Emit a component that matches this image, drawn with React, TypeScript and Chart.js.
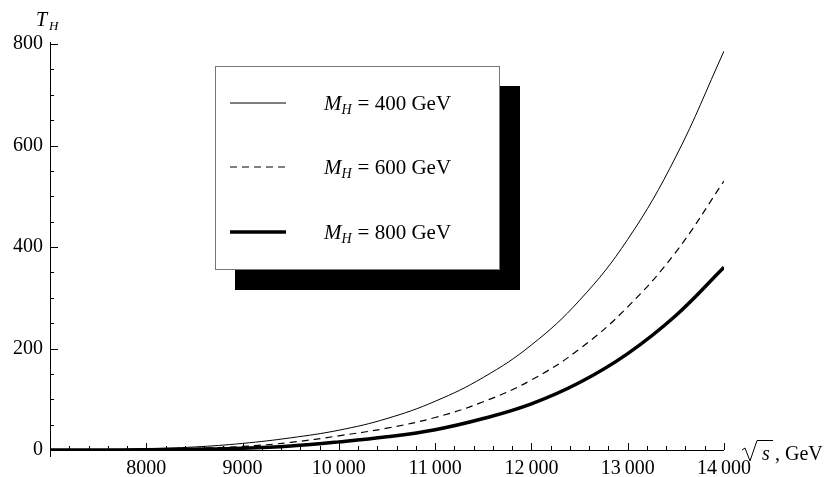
import React, { useEffect, useRef } from "react";
import { Chart, registerables } from "chart.js";

Chart.register(...registerables);

const sqrtS = [7000, 7500, 8000, 8500, 9000, 9500, 10000, 10500, 11000, 11500, 12000, 12500, 13000, 13500, 14000];
const t400 = [0, 0.8, 2.5, 6, 13, 24, 39, 62, 96, 143, 207, 295, 415, 578, 786];
const t600 = [0, 0.3, 1, 3, 7, 15, 28, 43, 64, 95, 138, 199, 282, 390, 530];
const t800 = [0, 0.1, 0.5, 1.5, 3.5, 8, 16, 26, 40, 62, 91, 133, 190, 265, 360];

const seriesLabels = ["400", "600", "800"];
const xMajorTicks = [8000, 9000, 10000, 11000, 12000, 13000, 14000];
const xTickLabels = ["8000", "9000", "10\u2009000", "11\u2009000", "12\u2009000", "13\u2009000", "14\u2009000"];
const yMajorTicks = [0, 200, 400, 600, 800];
const yTickLabels = ["0", "200", "400", "600", "800"];
const xMinorStep = 200;
const yMinorStep = 50;

const SERIF = "'Liberation Serif', 'DejaVu Serif', serif";

const axesPlugin = {
  id: "mmaAxes",
  afterDatasetsDraw(chart: any) {
    const ctx = chart.ctx as CanvasRenderingContext2D;
    const xs = chart.scales.x;
    const ys = chart.scales.y;
    const x0 = xs.getPixelForValue(xs.min);
    const x1 = xs.getPixelForValue(xs.max);
    const y0 = ys.getPixelForValue(0);
    const y1 = ys.getPixelForValue(ys.max);
    ctx.save();
    ctx.strokeStyle = "#000";
    ctx.lineWidth = 1;
    // axes lines
    ctx.beginPath();
    ctx.moveTo(x0, y0 + 0.5);
    ctx.lineTo(x1, y0 + 0.5);
    ctx.moveTo(x0 + 0.5, y1 - 2);
    ctx.lineTo(x0 + 0.5, y0 + 7);
    ctx.stroke();
    // x ticks
    ctx.beginPath();
    for (let v = xs.min; v <= xs.max + 1e-6; v += xMinorStep) {
      const px = Math.round(xs.getPixelForValue(v)) + 0.5;
      const major = Math.abs(v % 1000) < 1e-6;
      if (v === xs.min) continue;
      ctx.moveTo(px, y0);
      ctx.lineTo(px, y0 - (major ? 7 : 4));
    }
    // y ticks
    for (let v = 0; v <= ys.max + 1e-6; v += yMinorStep) {
      const py = Math.round(ys.getPixelForValue(v)) + 0.5;
      const major = Math.abs(v % 200) < 1e-6;
      if (v === 0) continue;
      ctx.moveTo(x0, py);
      ctx.lineTo(x0 + (major ? 8 : 4), py);
    }
    ctx.stroke();
    // tick labels
    ctx.fillStyle = "#000";
    ctx.font = `20px ${SERIF}`;
    ctx.textAlign = "center";
    ctx.textBaseline = "middle";
    xMajorTicks.forEach((v, i) => {
      ctx.fillText(xTickLabels[i], xs.getPixelForValue(v), y0 + 19);
    });
    ctx.textAlign = "right";
    yMajorTicks.forEach((v, i) => {
      ctx.fillText(yTickLabels[i], x0 - 7, ys.getPixelForValue(v));
    });
    // axis labels
    ctx.textAlign = "left";
    ctx.textBaseline = "alphabetic";
    ctx.font = `italic 20px ${SERIF}`;
    ctx.fillText("T", 36, 26);
    ctx.font = `italic 13px ${SERIF}`;
    ctx.fillText("H", 49, 30);
    // sqrt s , GeV
    ctx.lineWidth = 1;
    ctx.beginPath();
    ctx.moveTo(742, 450);
    ctx.lineTo(745, 448);
    ctx.lineTo(750, 461);
    ctx.lineTo(757, 440.5);
    ctx.lineTo(773, 440.5);
    ctx.stroke();
    ctx.font = `italic 20px ${SERIF}`;
    ctx.fillText("s", 762, 460);
    ctx.font = `20px ${SERIF}`;
    ctx.fillText(", GeV", 775, 460);

    // legend
    const bx = 215, by = 66, bw = 284, bh = 203;
    ctx.fillStyle = "#000";
    ctx.fillRect(bx + 20, by + 20, bw + 1, bh + 1);
    ctx.fillStyle = "#fff";
    ctx.fillRect(bx, by, bw, bh);
    ctx.strokeStyle = "#777";
    ctx.lineWidth = 1;
    ctx.strokeRect(bx + 0.5, by + 0.5, bw, bh);
    const rows = [103, 167, 232];
    chart.data.datasets.forEach((ds: any, i: number) => {
      ctx.save();
      ctx.strokeStyle = "#000";
      ctx.lineWidth = ds.borderWidth;
      ctx.setLineDash(ds.borderDash || []);
      ctx.beginPath();
      ctx.moveTo(230, rows[i]);
      ctx.lineTo(286, rows[i]);
      ctx.stroke();
      ctx.restore();
      ctx.fillStyle = "#000";
      ctx.textBaseline = "alphabetic";
      let tx = 324;
      const base = rows[i] + 7;
      ctx.font = `italic 21px ${SERIF}`;
      ctx.fillText("M", tx, base);
      tx += ctx.measureText("M").width;
      ctx.font = `italic 14px ${SERIF}`;
      ctx.fillText("H", tx, base + 4);
      tx += ctx.measureText("H").width + 6;
      ctx.font = `21px ${SERIF}`;
      ctx.fillText(`= ${seriesLabels[i]} GeV`, tx, base);
    });
    ctx.restore();
  },
};

export default function App() {
  const ref = useRef<HTMLCanvasElement | null>(null);
  useEffect(() => {
    if (!ref.current) return;
    const mk = (arr: number[]) => sqrtS.map((x, i) => ({ x, y: arr[i] }));
    const chart = new Chart(ref.current, {
      type: "line",
      data: {
        datasets: [
          { label: "400", data: mk(t400), borderColor: "#000", borderWidth: 1, pointRadius: 0, tension: 0.4, fill: false },
          { label: "600", data: mk(t600), borderColor: "#000", borderWidth: 1.2, borderDash: [7, 5], pointRadius: 0, tension: 0.4, fill: false },
          { label: "800", data: mk(t800), borderColor: "#000", borderWidth: 3.5, pointRadius: 0, tension: 0.4, fill: false },
        ],
      },
      options: {
        animation: false,
        responsive: false,
        maintainAspectRatio: false,
        layout: { padding: { left: 50, right: 101, top: 44, bottom: 27 } },
        plugins: { legend: { display: false }, tooltip: { enabled: false } },
        scales: {
          x: { type: "linear", min: 7000, max: 14000, display: false },
          y: { type: "linear", min: 0, max: 800, display: false },
        },
      },
      plugins: [axesPlugin],
    } as any);
    return () => chart.destroy();
  }, []);
  return (
    <div style={{ position: "fixed", left: 0, top: 0, width: 825, height: 477, background: "#fff" }}>
      <canvas ref={ref} width={825} height={477} style={{ display: "block" }} />
    </div>
  );
}
